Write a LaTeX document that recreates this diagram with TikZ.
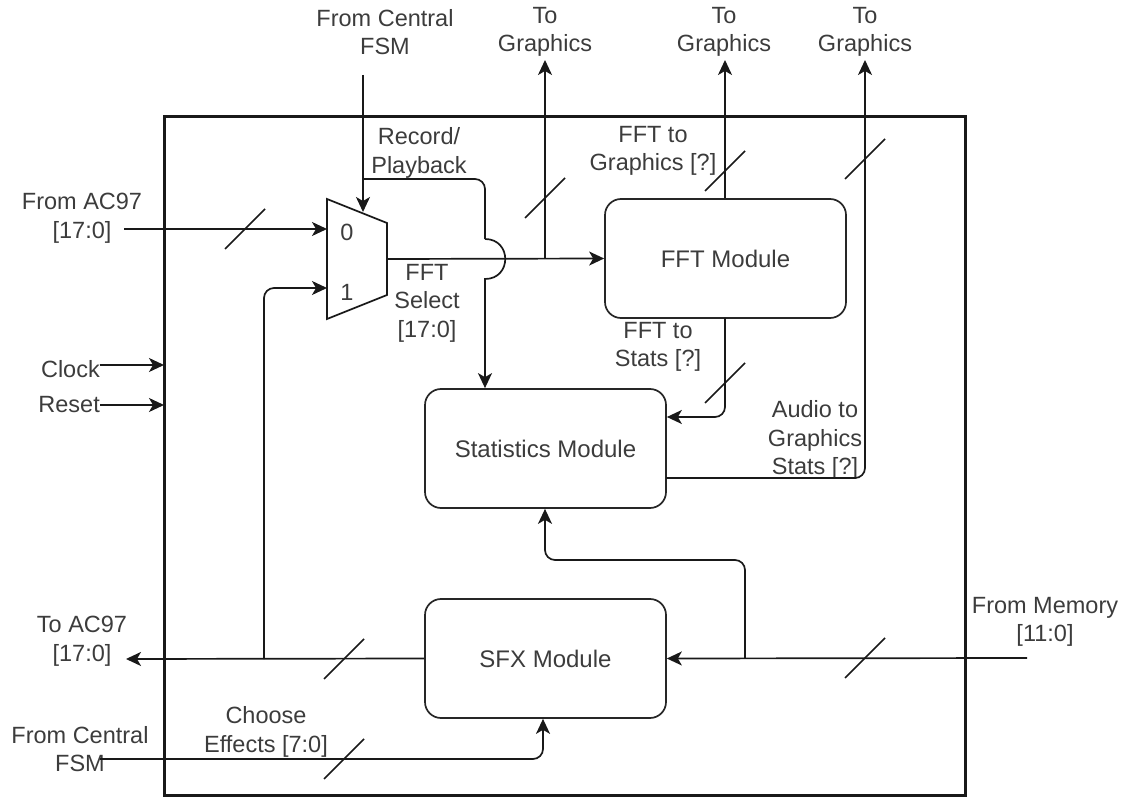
\documentclass[tikz,border=0pt]{standalone}
\usepackage{fontspec}
\setmainfont{Liberation Sans}
\usetikzlibrary{arrows.meta}
\definecolor{txt}{RGB}{60,60,60}
\begin{document}
\begin{tikzpicture}[x=1pt,y=-1pt,
  wire/.style={line width=1.7pt, draw=black!90, rounded corners=10pt},
  arr/.style={wire, -{Stealth[length=15pt,width=14pt,inset=4pt]}},
  lbl/.style={font=\fontsize{23.5}{28.5}\selectfont, text=txt, align=center, inner sep=0pt},
  module/.style={draw=black!85, line width=1.7pt, rounded corners=16pt, minimum width=241pt, minimum height=119pt, inner sep=0pt, font=\fontsize{24}{28}\selectfont, text=txt},
  busmark/.style={line width=1.5pt, draw=black!90}]
\useasboundingbox (0,0) rectangle (1125,799);
% frame
\node[draw=black!90, line width=3pt, minimum width=801pt, minimum height=678pt, inner sep=0pt] (frame) at (564.5,456) {};
% modules
\node[module] (fft) at (725.5,258.5) {FFT Module};
\node[module] (stats) at (545.5,448.5) {Statistics Module};
\node[module] (sfx) at (545.5,658.5) {SFX Module};
% mux
\draw[line width=1.7pt, draw=black!90] (327,199) -- (387,223) -- (387,295) -- (327,319) -- cycle;
\coordinate (mux0) at (327,229);
\coordinate (mux1) at (327,288);
\coordinate (muxout) at (387,259);
\coordinate (muxtop) at (363,212);
\node[lbl] (m0) at (347,232) {0};
\node[lbl] (m1) at (347,292) {1};
% labels
\node[lbl] (fsmT) at (385,32) {From Central\\FSM};
\node[lbl] (tg1) at (545,32) {To\\Graphics};
\node[lbl] (tg2) at (724,32) {To\\Graphics};
\node[lbl] (tg3) at (865,32) {To\\Graphics};
\node[lbl] (recpl) at (419,153) {Record/\\Playback};
\node[lbl] (fft2g) at (653,151) {FFT to\\Graphics [?]};
\node[lbl] (ac97in) at (82,218) {From AC97\\{}[17:0]};
\node[lbl] (fftsel) at (427,303) {FFT\\Select\\{}[17:0]};
\node[lbl] (fft2s) at (658,347) {FFT to\\Stats [?]};
\node[lbl, anchor=east] (clk) at (100,369) {Clock};
\node[lbl, anchor=east] (rst) at (100,405) {Reset};
\node[lbl] (a2g) at (815,440) {Audio to\\Graphics\\Stats [?]};
\node[lbl] (mem) at (1045,622) {From Memory\\{}[11:0]};
\node[lbl] (ac97out) at (82,641) {To AC97\\{}[17:0]};
\node[lbl] (choose) at (266,732) {Choose\\Effects [7:0]};
\node[lbl] (fsmB) at (80,749) {From Central\\FSM};
% coordinates
\coordinate (ac97s) at (124,229);
\coordinate (fsmtop) at (363,75);
\coordinate (rpsplit) at (363,179);
\coordinate (rpc) at (485,179);
\coordinate (jumpA) at (485,239);
\coordinate (jumpB) at (485,279);
\coordinate (tgsplit) at (545,259);
\coordinate (tg1e) at (545,60);
\coordinate (fftup) at (725,318);
\coordinate (tg2e) at (725,60);
\coordinate (statsout) at (666,478);
\coordinate (a2gc) at (865,478);
\coordinate (tg3e) at (865,60);
\coordinate (fftdn) at (725,417);
\coordinate (memS) at (1027,658);
\coordinate (memsplit) at (745,658);
\coordinate (memc1) at (745,560);
\coordinate (memc2) at (545,560);
\coordinate (ac97e) at (126,659);
\coordinate (fbsplit) at (264,659);
\coordinate (fbc) at (264,288);
\coordinate (fsmBs) at (100,759);
\coordinate (fsmBc) at (543,759);
\coordinate (clkE) at (164,365);
\coordinate (rstE) at (164,405);
% connectors
\draw[arr] (ac97s) -- (mux0);
\draw[arr] (clk.east |- clkE) -- (clkE);
\draw[arr] (rst.east |- rstE) -- (rstE);
\draw[arr] (fsmtop) -- (muxtop);
\draw[wire] (rpsplit) -- (rpc) -- (jumpA);
\draw[arr, rounded corners=0pt] (jumpA) .. controls +(27,0) and +(27,0) .. (jumpB) -- (stats.north -| jumpA);
\draw[arr] (muxout) -- (fft.west);
\draw[arr] (tgsplit) -- (tg1e);
\draw[arr] (fft.north -| fftup) -- (tg2e);
\draw[arr] (statsout) -- (a2gc) -- (tg3e);
\draw[arr] (fftup) -- (fftdn) -- (stats.east |- fftdn);
\draw[arr] (memS) -- (sfx.east);
\draw[arr] (memsplit) -- (memc1) -- (memc2) -- (stats.south -| memc2);
\draw[arr] (sfx.west) -- (ac97e);
\draw[arr] (fbsplit) -- (fbc) -- (mux1);
\draw[arr] (fsmBs) -- (fsmBc) -- (sfx.south -| fsmBc);
% bus marks
\foreach \p in {(245,229),(545,198),(725,171),(865,159),(725,383),(865,658),(344,659),(344,759)}
  \draw[busmark] \p ++(-20,20) -- ++(40,-40);
\end{tikzpicture}
\end{document}
